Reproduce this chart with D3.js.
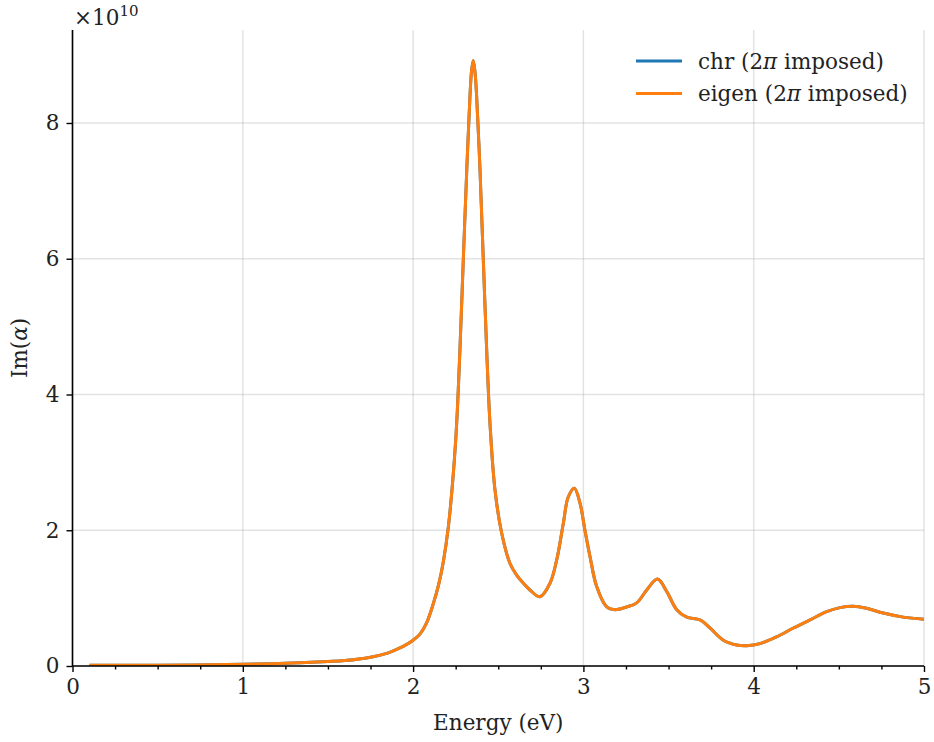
<!DOCTYPE html>
<html>
<head>
<meta charset="utf-8">
<script src="https://cdn.jsdelivr.net/npm/d3@7"></script>
<style>
  html, body { margin: 0; padding: 0; background: #fff; }
  svg text { font-family: "DejaVu Serif", serif; fill: #222; }
</style>
</head>
<body>
<svg id="chart" width="934" height="742"></svg>
<script>
// Photon energy grid (eV)
const energy = [0.1, 0.5, 1.0, 1.25, 1.5, 1.6, 1.75, 1.85, 1.9, 1.95, 2.0, 2.04, 2.08, 2.12, 2.15, 2.177, 2.207, 2.236, 2.256, 2.275,
  2.295, 2.315, 2.334, 2.343, 2.353, 2.363, 2.373, 2.393, 2.412, 2.432, 2.452, 2.481, 2.52, 2.569, 2.608, 2.64, 2.686, 2.745,
  2.804, 2.843, 2.882, 2.911, 2.947, 2.98, 3.009, 3.039, 3.078, 3.137, 3.186, 3.254, 3.313, 3.372, 3.435,
  3.489, 3.548, 3.607, 3.685, 3.743, 3.822, 3.9, 3.959, 4.037, 4.135, 4.233, 4.331, 4.429, 4.507, 4.585,
  4.663, 4.761, 4.878, 5.0];

// Im(alpha) in units of 1e10, chr scheme (2π imposed)
const chrValues = [0.01, 0.012, 0.025, 0.04, 0.065, 0.08, 0.13, 0.19, 0.24, 0.30, 0.38, 0.47, 0.64, 0.93, 1.20, 1.53, 2.05, 2.83, 3.58, 4.66,
  6.0, 7.3, 8.4, 8.76, 8.92, 8.76, 8.4, 7.3, 6.0, 4.66, 3.55, 2.59, 1.96, 1.51, 1.34, 1.24, 1.12, 1.02,
  1.22, 1.56, 2.10, 2.49, 2.62, 2.40, 2.0, 1.61, 1.17, 0.87, 0.83, 0.87, 0.93, 1.12, 1.28,
  1.10, 0.83, 0.72, 0.68, 0.56, 0.38, 0.31, 0.30, 0.33, 0.43, 0.56, 0.68, 0.80, 0.86, 0.88,
  0.85, 0.78, 0.72, 0.69];

// Im(alpha) in units of 1e10, eigen scheme (2π imposed) — coincides with chr
const eigenValues = chrValues.slice();

const seriesNames = ["chr (2\u03C0 imposed)", "eigen (2\u03C0 imposed)"];
const seriesColors = ["#1f77b4", "#ff7f0e"];
const xTicks = [0, 1, 2, 3, 4, 5];
const yTicks = [0, 2, 4, 6, 8];

const svg = d3.select("#chart");
const FS = 21.5;
const plotL = 72.5, plotR = 924, plotT = 30, plotB = 666;

const x = d3.scaleLinear().domain([0, 5]).range([plotL, plotR]);
const y = d3.scaleLinear().domain([0, 9.37]).range([plotB, plotT]);

// grid
const grid = svg.append("g");
grid.selectAll("line.gx").data(xTicks).join("line")
  .attr("x1", d => x(d)).attr("x2", d => x(d))
  .attr("y1", plotT).attr("y2", plotB)
  .attr("stroke", "#b0b0b0").attr("stroke-opacity", 0.35).attr("stroke-width", 1.5);
grid.selectAll("line.gy").data(yTicks).join("line")
  .attr("x1", plotL).attr("x2", plotR)
  .attr("y1", d => y(d)).attr("y2", d => y(d))
  .attr("stroke", "#b0b0b0").attr("stroke-opacity", 0.35).attr("stroke-width", 1.5);

// curves
const line = d3.line()
  .x((d, i) => x(energy[i]))
  .y(d => y(d))
  .curve(d3.curveCatmullRom.alpha(0.5));

svg.append("clipPath").attr("id", "clip")
  .append("rect").attr("x", plotL).attr("y", plotT).attr("width", plotR - plotL).attr("height", plotB - plotT);

[chrValues, eigenValues].forEach((vals, k) => {
  svg.append("path")
    .attr("d", line(vals))
    .attr("fill", "none")
    .attr("stroke", seriesColors[k])
    .attr("stroke-width", 3)
    .attr("stroke-linejoin", "round")
    .attr("clip-path", "url(#clip)");
});

// axes
const xAxis = d3.axisBottom(x).tickValues(xTicks).tickFormat(d3.format("d")).tickSize(6).tickPadding(7);
const xMinor = d3.axisBottom(x).tickValues(d3.range(0, 5.001, 0.25).filter(v => Math.abs(v - Math.round(v)) > 1e-6))
  .tickFormat("").tickSize(3.5);
const yAxis = d3.axisLeft(y).tickValues(yTicks).tickFormat(d3.format("d")).tickSize(6).tickPadding(7);

const gx = svg.append("g").attr("transform", `translate(0,${plotB})`).call(xAxis);
const gxm = svg.append("g").attr("transform", `translate(0,${plotB})`).call(xMinor);
const gy = svg.append("g").attr("transform", `translate(${plotL},0)`).call(yAxis);
gxm.select(".domain").remove();
[gx, gxm, gy].forEach(g => {
  g.attr("font-size", FS).attr("font-family", "DejaVu Serif");
  g.selectAll("line").attr("stroke", "#000").attr("stroke-width", 1.4);
  g.select(".domain").attr("stroke", "#000").attr("stroke-width", 1.6);
  g.selectAll("text").attr("font-size", FS).attr("fill", "#222");
});
gx.select(".domain").attr("d", `M${plotL},0H${plotR}`);
gy.select(".domain").attr("d", `M0,${plotB}V${plotT}`);

// axis labels
svg.append("text").attr("x", (plotL + plotR) / 2).attr("y", 730)
  .attr("text-anchor", "middle").attr("font-size", FS).text("Energy (eV)");

const yl = svg.append("text").attr("transform", `translate(27,${(plotT + plotB) / 2}) rotate(-90)`)
  .attr("text-anchor", "middle").attr("font-size", FS);
yl.append("tspan").text("Im(");
yl.append("tspan").attr("font-style", "italic").text("\u03B1");
yl.append("tspan").text(")");

// offset label
const off = svg.append("text").attr("x", 74).attr("y", 25).attr("font-size", FS);
off.append("tspan").text("\u00D710");
off.append("tspan").attr("dy", -9).attr("font-size", 15).text("10");

// legend
const leg = svg.append("g");
seriesNames.forEach((name, k) => {
  const ly = 61 + k * 32.6;
  leg.append("line").attr("x1", 636).attr("x2", 682).attr("y1", ly).attr("y2", ly)
    .attr("stroke", seriesColors[k]).attr("stroke-width", 3);
  const t = leg.append("text").attr("x", 698).attr("y", ly + 7.5).attr("font-size", FS);
  const parts = name.split("\u03C0");
  t.append("tspan").text(parts[0]);
  t.append("tspan").attr("font-style", "italic").text("\u03C0");
  t.append("tspan").text(parts[1]);
});
</script>
</body>
</html>
